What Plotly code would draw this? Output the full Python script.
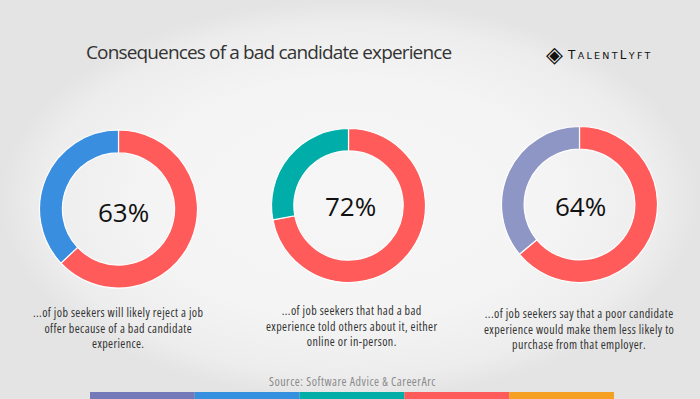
import plotly.graph_objects as go

W, H = 700, 399

# ---- data ----
percents = [63, 72, 64]
pct_labels = ["63%", "72%", "64%"]
accent_colors = ["#3A8EE0", "#00ADA9", "#8E96C6"]
main_color = "#FF5B5B"
captions = [
    "...of job seekers will likely reject a job<br>offer because of a bad candidate<br>experience.",
    "...of job seekers that had a bad<br>experience told others about it, either<br>online or in-person.",
    "...of job seekers say that a poor candidate<br>experience would make them less likely to<br>purchase from that employer.",
]
title_text = "Consequences of a bad candidate experience"
source_text = "Source: Software Advice & CareerArc"
bar_colors = ["#7479B8", "#3590E0", "#00AEA8", "#FF5B5B", "#F5A023"]

# layout geometry (pixels)
donut_centers = [(118.5, 209), (348.5, 205.5), (579.5, 204.5)]
donut_radii = [79, 77, 78]
pct_pos = [(123, 212), (350.5, 206), (580.5, 206)]
caption_pos = [(118, 328), (351, 326), (579, 329)]

def px(x):
    return x / W

def py(y):
    return 1 - y / H

def styled(t, style):
    return "<br>".join("<span style='" + style + "'>" + s + "</span>" for s in t.split("<br>"))

COND = "font-stretch:75%;letter-spacing:0.4px"

fig = go.Figure()

# background vignette (decorative)
fig.add_trace(go.Scatter(
    x=[0, W, W, 0, 0], y=[0, 0, H, H, 0], mode="lines", fill="toself",
    line=dict(width=0), hoverinfo="skip", showlegend=False,
    fillgradient=dict(type="radial", colorscale=[
        [0, "#F6F6F6"], [0.6, "#F4F4F4"], [0.88, "#EDEDED"], [1, "#E4E4E4"]]),
))

for i in range(3):
    cx, cy = donut_centers[i]
    r = donut_radii[i]
    fig.add_trace(go.Pie(
        values=[percents[i], 100 - percents[i]],
        labels=["yes", "no"],
        marker=dict(colors=[main_color, accent_colors[i]], line=dict(color="white", width=1.2)),
        hole=0.71,
        sort=False,
        direction="clockwise",
        rotation=0,
        textinfo="none",
        hoverinfo="none",
        showlegend=False,
        domain=dict(x=[px(cx - r), px(cx + r)], y=[py(cy + r), py(cy - r)]),
    ))

annotations = []
for i in range(3):
    x, y = pct_pos[i]
    annotations.append(dict(
        text=pct_labels[i], x=px(x), y=py(y), xref="paper", yref="paper",
        showarrow=False, xanchor="center", yanchor="middle",
        font=dict(family="Open Sans", size=26, color="#111111"),
    ))
    x, y = caption_pos[i]
    annotations.append(dict(
        text=styled(captions[i], COND), x=px(x), y=py(y), xref="paper", yref="paper",
        showarrow=False, xanchor="center", yanchor="middle", align="center",
        font=dict(family="Open Sans", size=12, color="#333333"),
    ))

annotations.append(dict(
    text=styled(title_text, "letter-spacing:-0.85px"), x=px(84), y=py(52), xref="paper", yref="paper",
    showarrow=False, xanchor="left", yanchor="middle",
    font=dict(family="Open Sans", size=19, color="#333333"),
))
annotations.append(dict(
    text=styled(source_text, "font-stretch:75%;letter-spacing:0.5px"), x=px(352), y=py(381),
    xref="paper", yref="paper",
    showarrow=False, xanchor="center", yanchor="middle",
    font=dict(family="Open Sans", size=12, color="#8A8A8A"),
))
LS = "letter-spacing:2.3px"
annotations.append(dict(
    text=("<span style='" + LS + "'>T</span>"
          "<span style='font-size:9.5px;" + LS + "'>ALENT</span>"
          "<span style='" + LS + "'>L</span>"
          "<span style='font-size:9.5px;" + LS + "'>YFT</span>"),
    x=px(565), y=py(55), xref="paper", yref="paper",
    showarrow=False, xanchor="left", yanchor="middle",
    font=dict(family="DejaVu Sans", size=12, color="#111111"),
))
annotations.append(dict(
    text="◈", x=px(554), y=py(54), xref="paper", yref="paper",
    showarrow=False, xanchor="center", yanchor="middle",
    font=dict(family="DejaVu Sans", size=22, color="#111111"),
))

shapes = []
seg_x0 = 90
seg_w = 104.8
for i, c in enumerate(bar_colors):
    shapes.append(dict(
        type="rect", xref="paper", yref="paper",
        x0=px(seg_x0 + i * seg_w), x1=px(seg_x0 + (i + 1) * seg_w),
        y0=py(399), y1=py(392), fillcolor=c, line=dict(width=0), layer="above",
    ))

fig.update_layout(
    width=W, height=H,
    margin=dict(l=0, r=0, t=0, b=0),
    paper_bgcolor="#EEEEEE",
    plot_bgcolor="rgba(0,0,0,0)",
    xaxis=dict(range=[0, W], visible=False, fixedrange=True, domain=[0, 1]),
    yaxis=dict(range=[H, 0], visible=False, fixedrange=True, domain=[0, 1]),
    annotations=annotations,
    shapes=shapes,
)

fig.write_html(
    "out.html",
    config={"displayModeBar": False},
    post_script="document.body.style.margin='0';document.body.style.padding='0';document.body.style.overflow='hidden';",
)
